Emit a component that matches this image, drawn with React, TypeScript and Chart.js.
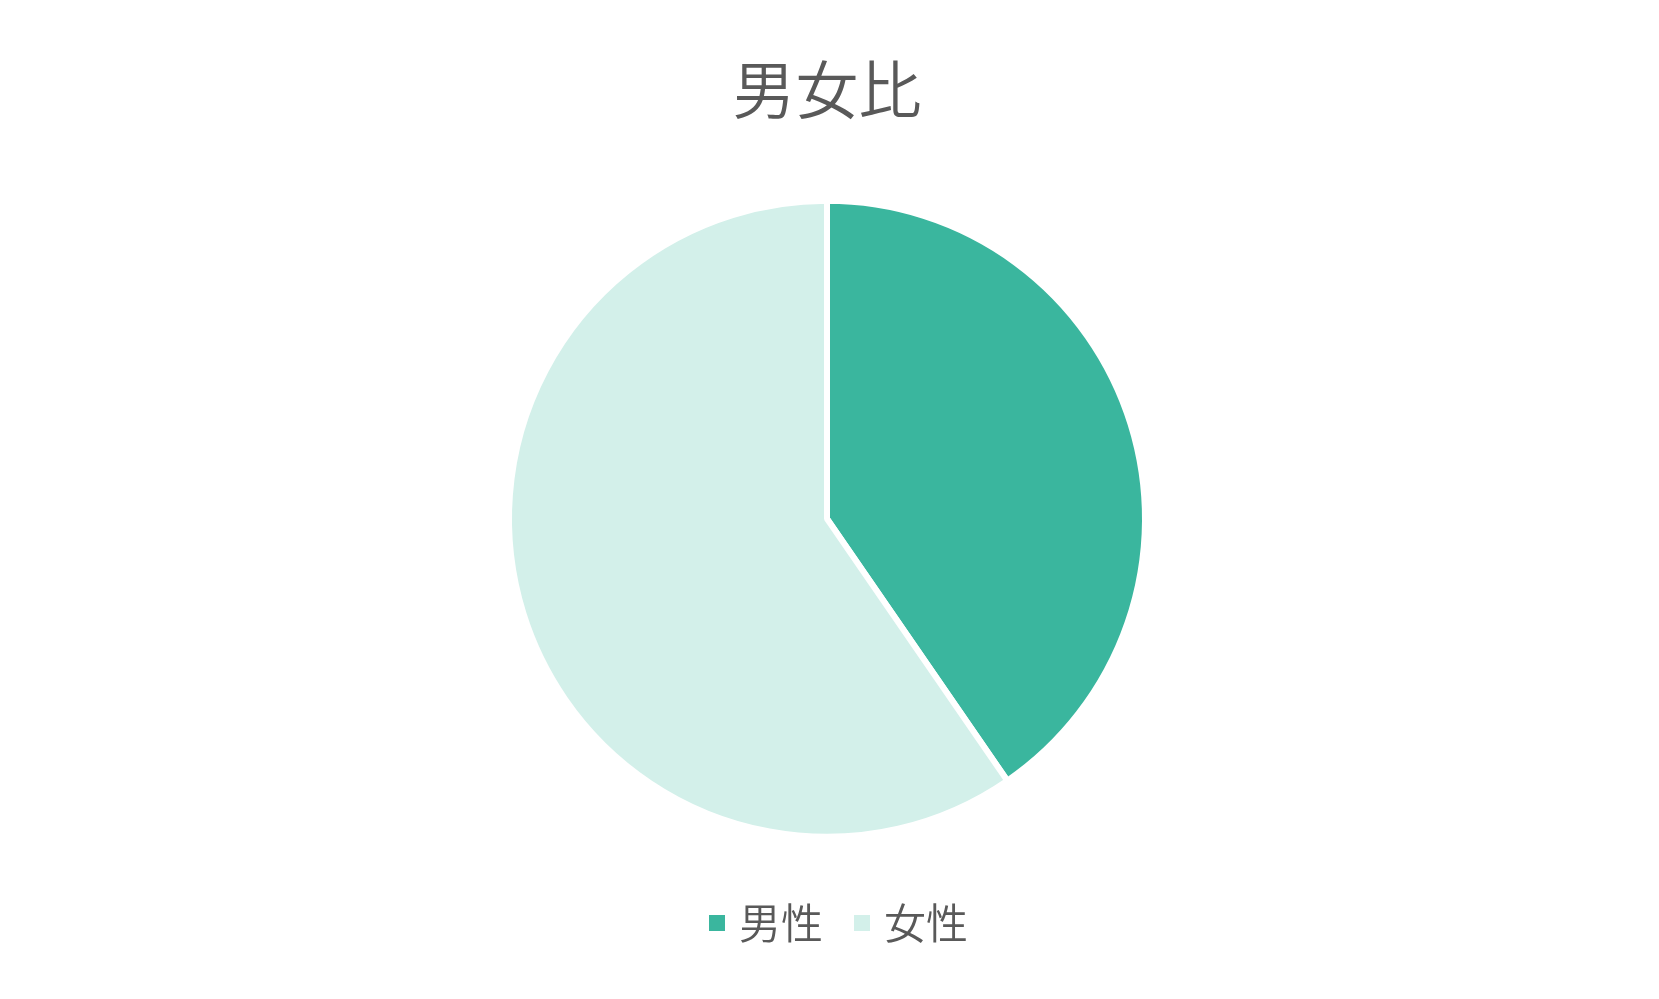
import { useRef, useEffect } from "react"
import Chart from "chart.js/auto"

const labels = ["男性", "女性"]
const shares = [40.4, 59.6]
const colors = ["#3ab69e", "#d3f0ea"]

const FONT = "'Noto Sans CJK JP', 'Noto Sans', sans-serif"
const TEXT = "#595959"

export default function App() {
  const chartRef = useRef<HTMLCanvasElement>(null)

  useEffect(() => {
    if (!chartRef.current) return
    const ctx = chartRef.current.getContext("2d")
    if (!ctx) return

    const myChart = new Chart(ctx, {
      type: "pie",
      data: {
        labels,
        datasets: [
          {
            data: shares,
            backgroundColor: colors,
            borderColor: "#ffffff",
            borderWidth: 6,
          },
        ],
      },
      options: {
        responsive: true,
        maintainAspectRatio: false,
        animation: false,
        radius: 318,
        layout: {
          padding: { top: 0, bottom: 45, left: 25, right: 0 },
        },
        plugins: {
          title: {
            display: true,
            fullSize: false,
            text: "男女比",
            color: TEXT,
            font: { family: FONT, size: 63, weight: "350", lineHeight: 1.2 },
            padding: { top: 51, bottom: 47 },
          },
          // empty spacer on the right: pie + title sit a bit left of the legend
          subtitle: {
            display: true,
            position: "right",
            fullSize: false,
            text: " ",
            font: { size: 1, lineHeight: 1 },
            padding: { top: 29, bottom: 0 },
          },
          legend: {
            position: "bottom",
            labels: {
              color: TEXT,
              font: { family: FONT, size: 42, weight: "350" },
              usePointStyle: true,
              pointStyle: "rect",
              boxWidth: 2,
              boxHeight: 16,
              padding: 38,
              generateLabels: (chart) =>
                Chart.overrides.pie.plugins.legend.labels
                  .generateLabels(chart)
                  .map((item) => ({ ...item, lineWidth: 0, strokeStyle: "transparent", pointStyle: "rect" })),
            },
          },
          tooltip: { enabled: false },
        },
      },
    })

    return () => {
      myChart.destroy()
    }
  }, [])

  return (
    <div style={{ position: "absolute", left: 0, top: 0, width: 1659, height: 999, background: "#fff" }}>
      <canvas ref={chartRef} />
    </div>
  )
}
